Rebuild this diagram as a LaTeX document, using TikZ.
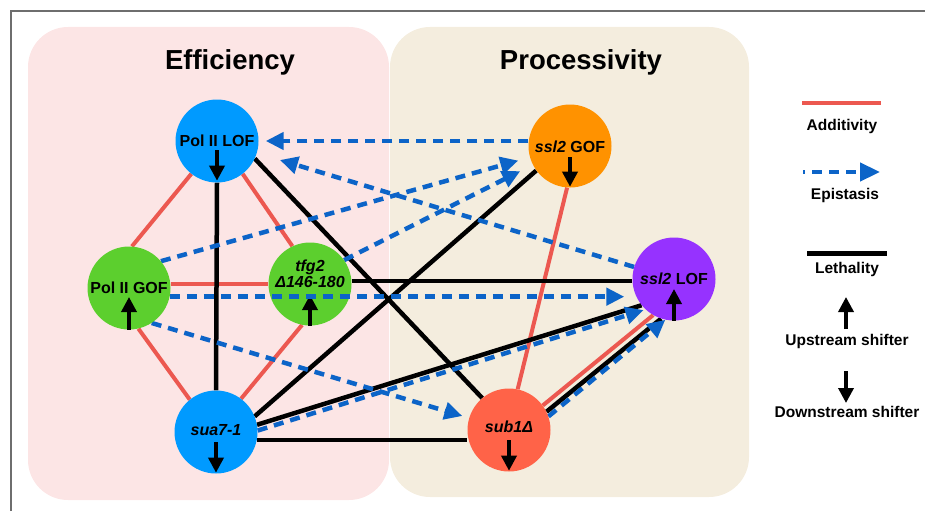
\documentclass[tikz,border=0pt]{standalone}
\usepackage{fontspec}
\setmainfont{Liberation Sans}
\usetikzlibrary{arrows.meta}

\definecolor{panelpink}{RGB}{252,229,229}
\definecolor{paneltan}{RGB}{244,237,222}
\definecolor{nodeblue}{RGB}{0,154,255}
\definecolor{nodegreen}{RGB}{92,207,46}
\definecolor{nodeorange}{RGB}{255,146,0}
\definecolor{nodepurple}{RGB}{150,50,255}
\definecolor{nodetomato}{RGB}{255,99,72}
\definecolor{addred}{RGB}{236,88,80}
\definecolor{epiblue}{RGB}{12,100,200}
\definecolor{framegray}{RGB}{110,110,110}

\pgfdeclarelayer{panels}
\pgfdeclarelayer{links}
\pgfsetlayers{panels,links,main}

\tikzset{
  mutant/.style={circle, minimum size=83pt, inner sep=0pt, draw=none},
  lbl/.style={font=\bfseries\fontsize{16}{17.5}\selectfont, inner sep=0pt, align=center},
  legtext/.style={font=\bfseries\fontsize{15.5}{17}\selectfont, inner sep=0pt},
  heading/.style={font=\bfseries\fontsize{27.5}{30}\selectfont, inner sep=0pt},
  additive/.style={draw=addred, line width=4pt},
  lethal/.style={draw=black, line width=4.5pt},
  epistatic/.style={draw=epiblue, line width=4.5pt, dash pattern=on 10pt off 7pt,
    -{Triangle[length=18pt,width=17pt]}},
  shifter/.style={draw=black, line width=3.5pt, -{Triangle[length=15pt,width=15pt]}},
}

\begin{document}
\begin{tikzpicture}[x=1pt, y=-1pt]
\useasboundingbox (0,0) rectangle (925,511);

% outer frame (top and left edges)
\draw[framegray, line width=1.2pt] (11,511) -- (11,11) -- (925,11);

% background panels
\begin{pgfonlayer}{panels}
  \fill[panelpink, rounded corners=40pt] (28,27) rectangle (389,500);
  \fill[paneltan, rounded corners=40pt] (390,27) rectangle (749,497);
\end{pgfonlayer}

\node[heading] (t-eff) at (230,62) {Efficiency};
\node[heading] (t-proc) at (581,62) {Processivity};

% mutant nodes
\node[mutant, fill=nodeblue]   (pol2lof) at (217,141) {};
\node[mutant, fill=nodeorange] (ssl2gof) at (570,146) {};
\node[mutant, fill=nodegreen]  (pol2gof) at (129,288) {};
\node[mutant, fill=nodegreen]  (tfg2)    at (310,284) {};
\node[mutant, fill=nodepurple] (ssl2lof) at (674,279) {};
\node[mutant, fill=nodeblue]   (sua7)    at (216,432) {};
\node[mutant, fill=nodetomato] (sub1)    at (509,430) {};

\node[lbl] (pol2lof-t) at (pol2lof.center) {Pol II LOF};
\node[lbl] (ssl2gof-t) at ([yshift=-1pt]ssl2gof.center) {\textit{ssl2} GOF};
\node[lbl] (pol2gof-t) at (pol2gof.center) {Pol II GOF};
\node[lbl] (tfg2-t)    at ([yshift=10pt]tfg2.center) {\textit{tfg2}\\[-1.5pt]\textit{Δ146-180}};
\node[lbl] (ssl2lof-t) at (ssl2lof.center) {\textit{ssl2} LOF};
\node[lbl] (sua7-t)    at ([yshift=2pt]sua7.center) {\textit{sua7-1}};
\node[lbl] (sub1-t)    at ([yshift=3pt]sub1.center) {\textit{sub1Δ}};

% shifter arrows inside the nodes
\draw[shifter] ([yshift=-9pt]pol2lof.center) -- ([yshift=2pt]pol2lof.south);
\draw[shifter] ([yshift=-11pt]ssl2gof.center) -- ([yshift=1pt]ssl2gof.south);
\draw[shifter] (pol2gof.south) -- ([yshift=-9pt]pol2gof.center);
\draw[shifter] (tfg2.south) -- ([yshift=-11pt]tfg2.center);
\draw[shifter] (ssl2lof.south) -- ([yshift=-10pt]ssl2lof.center);
\draw[shifter] ([yshift=-10pt]sua7.center) -- ([yshift=1pt]sua7.south);
\draw[shifter] ([yshift=-10pt]sub1.center) -- ([yshift=1pt]sub1.south);

\begin{pgfonlayer}{links}
  % additivity
  \draw[additive] (pol2lof.232) -- (pol2gof.86);
  \draw[additive] (pol2lof.308) -- (tfg2.115);
  \draw[additive] (tfg2.west -| pol2gof.east) -- (tfg2.west);
  \draw[additive] (pol2gof.-77) -- (sua7.129);
  \draw[additive] (tfg2.259) -- (sua7.53);
  \draw[additive] (ssl2gof.266) -- (sub1.78);
  \draw[additive] (sub1.36) -- (ssl2lof.240);
  % lethality
  \draw[lethal] (pol2lof.south) -- (sua7.north);
  \draw[lethal] (pol2lof.-25) -- (sub1.130);
  \draw[lethal] (tfg2.4) -- (tfg2.4 -| ssl2lof.west);
  \draw[lethal] (sua7.22) -- (ssl2gof.216);
  \draw[lethal] (sua7.10) -- (ssl2lof.219);
  \draw[lethal] (sua7.-11) -- (sua7.-11 -| sub1.west);
  \draw[lethal] (sub1.26) -- (ssl2lof.252);
  % epistasis
  \draw[epistatic, shorten >=7pt] (ssl2gof.west |- pol2lof.east) -- (pol2lof.east);
  \draw[epistatic, shorten >=24pt] (ssl2lof) -- (pol2lof);
  \draw[epistatic, shorten >=12pt] (pol2gof.40) -- (ssl2gof);
  \draw[epistatic, shorten >=14pt] (tfg2.35) -- (ssl2gof);
  \draw[epistatic, shorten >=7pt] (pol2gof.-57) -- (sub1);
  \draw[epistatic, shorten >=2pt] (sua7.2) -- (ssl2lof.227);
  \draw[epistatic] (sub1.19) -- (ssl2lof.258);
\end{pgfonlayer}

% this one runs across the tfg2 node
\draw[epistatic, shorten >=8pt] (pol2gof.-12) -- (pol2gof.-12 -| ssl2lof.west);

% legend
\coordinate (lg-add-a) at (802,103);
\coordinate (lg-add-b) at (881,103);
\draw[additive, line width=4.5pt] (lg-add-a) -- (lg-add-b);
\node[legtext] (lg-add) at (842,126) {Additivity};

\coordinate (lg-epi-a) at (803,172);
\coordinate (lg-epi-b) at (880,172);
\draw[epistatic, dash phase=8pt, -{Triangle[length=20pt,width=18pt]}] (lg-epi-a) -- (lg-epi-b);
\node[legtext] (lg-epi) at (845,195) {Epistasis};

\coordinate (lg-let-a) at (807,253);
\coordinate (lg-let-b) at (887,253);
\draw[lethal, line width=5pt] (lg-let-a) -- (lg-let-b);
\node[legtext] (lg-let) at (847,269) {Lethality};

\coordinate (lg-up-a) at (846,329);
\coordinate (lg-up-b) at (846,297);
\draw[shifter] (lg-up-a) -- (lg-up-b);
\node[legtext] (lg-up) at (847,341) {Upstream shifter};

\coordinate (lg-dn-a) at (846,371);
\coordinate (lg-dn-b) at (846,403);
\draw[shifter] (lg-dn-a) -- (lg-dn-b);
\node[legtext] (lg-dn) at (847,412) {Downstream shifter};
\end{tikzpicture}
\end{document}
